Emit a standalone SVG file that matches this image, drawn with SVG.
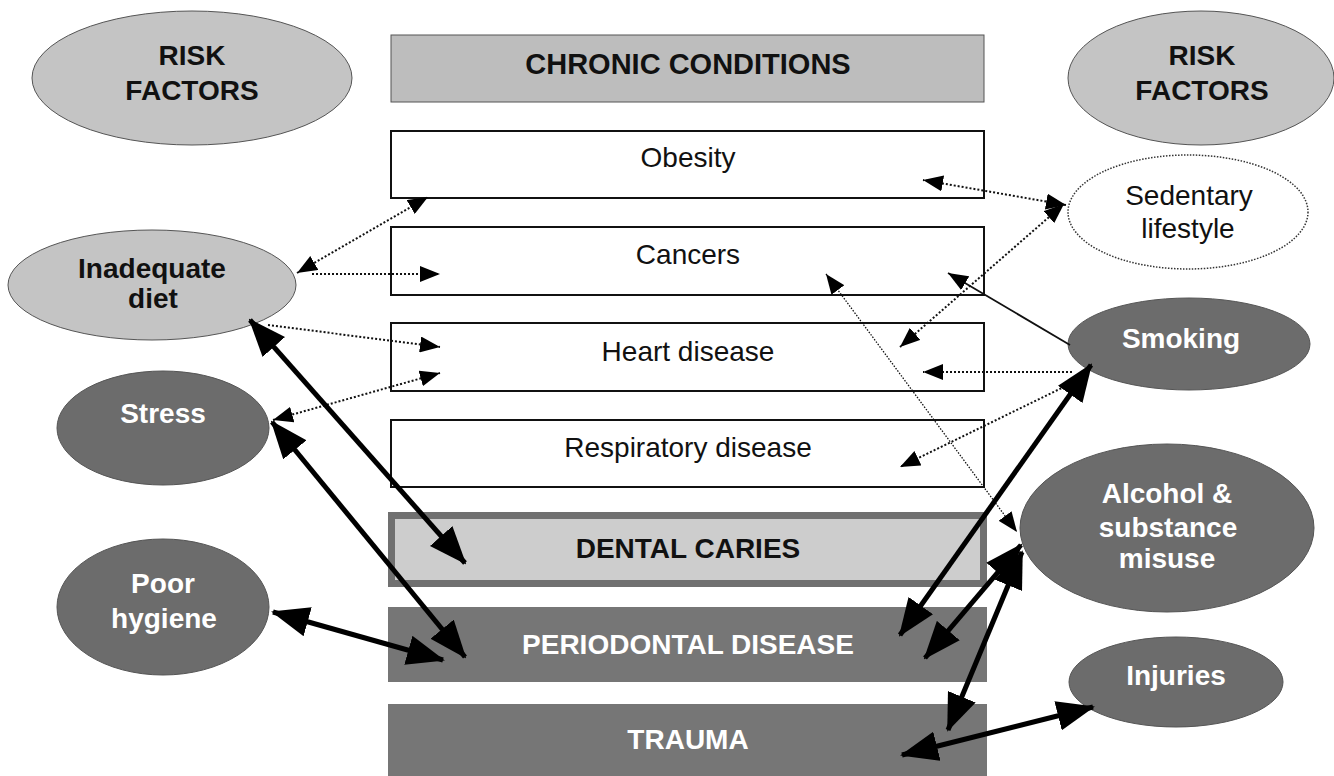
<svg xmlns="http://www.w3.org/2000/svg" width="1334" height="776" viewBox="0 0 1334 776">
<style>
text{font-family:"Liberation Sans",Arial,sans-serif;text-anchor:middle}
.b{font-weight:bold;font-size:28px}
.n{font-size:28px;fill:#111}
.w{fill:#fff}
.k{fill:#111}
.box{fill:#fff;stroke:#111;stroke-width:2}
.lite{fill:#c4c4c4;stroke:#555;stroke-width:1}
.dark{fill:#6c6c6c;stroke:#555;stroke-width:1}
.band{fill:#767676}
.dot{fill:none;stroke:#111;stroke-width:2;stroke-dasharray:2 2}
.fine{fill:none;stroke:#111;stroke-width:1.3;stroke-dasharray:1.5 1.5}
.thin{fill:none;stroke:#111;stroke-width:1.8}
.thick{fill:none;stroke:#000;stroke-width:5}
</style>
<defs>
<marker id="ah" markerUnits="userSpaceOnUse" viewBox="0 0 20 16" markerWidth="20" markerHeight="16" refX="20" refY="8" orient="auto-start-reverse"><path d="M0,0 L20,8 L0,16 z" fill="#000"/></marker>
<marker id="ahL" markerUnits="userSpaceOnUse" viewBox="0 0 38 30" markerWidth="38" markerHeight="30" refX="36" refY="15" orient="auto-start-reverse"><path d="M0,0 L38,15 L0,30 z" fill="#000"/></marker>
</defs>
<rect width="1334" height="776" fill="#fff"/>

<g id="rf-left"><ellipse class="lite" cx="192" cy="78" rx="160" ry="67"/><text class="b k" x="192" y="65">RISK</text><text class="b k" x="192" y="100">FACTORS</text></g>
<g id="rf-right"><ellipse class="lite" cx="1201" cy="78" rx="133" ry="67"/><text class="b k" x="1202" y="65">RISK</text><text class="b k" x="1202" y="100">FACTORS</text></g>

<g id="chronic"><rect x="391" y="35" width="593" height="67" fill="#bdbdbd" stroke="#555" stroke-width="1"/><text class="b k" x="688" y="74" style="font-size:29px">CHRONIC CONDITIONS</text></g>
<g id="obesity"><rect class="box" x="391" y="131" width="593" height="67"/><text class="n" x="688" y="167">Obesity</text></g>
<g id="cancers"><rect class="box" x="391" y="227" width="593" height="68"/><text class="n" x="688" y="264">Cancers</text></g>
<g id="heart"><rect class="box" x="391" y="323" width="593" height="68"/><text class="n" x="688" y="361">Heart disease</text></g>
<g id="respiratory"><rect class="box" x="391" y="420" width="593" height="67"/><text class="n" x="688" y="457">Respiratory disease</text></g>
<g id="caries"><rect x="388" y="512" width="599" height="75" fill="#707070"/><rect x="395" y="519" width="585" height="61" fill="#cdcdcd"/><text class="b k" x="688" y="558">DENTAL CARIES</text></g>
<g id="periodontal"><rect class="band" x="388" y="607" width="599" height="75"/><text class="b w" x="688" y="654">PERIODONTAL DISEASE</text></g>
<g id="trauma"><rect class="band" x="388" y="704" width="599" height="80"/><text class="b w" x="688" y="749">TRAUMA</text></g>

<g id="diet"><ellipse class="lite" cx="152" cy="285" rx="144" ry="55"/><text class="b k" x="152" y="278">Inadequate</text><text class="b k" x="153" y="308">diet</text></g>
<g id="stress"><ellipse class="dark" cx="163" cy="428" rx="106" ry="57"/><text class="b w" x="163" y="423">Stress</text></g>
<g id="hygiene"><ellipse class="dark" cx="163" cy="607" rx="106" ry="68"/><text class="b w" x="163" y="593">Poor</text><text class="b w" x="164" y="628">hygiene</text></g>
<g id="sedentary"><ellipse cx="1188" cy="212" rx="120" ry="57" fill="#fff" stroke="#333" stroke-width="1.5" stroke-dasharray="1.5 1.5"/><text class="n" x="1189" y="205">Sedentary</text><text class="n" x="1188" y="238">lifestyle</text></g>
<g id="smoking"><ellipse class="dark" cx="1189" cy="344" rx="121" ry="46"/><text class="b w" x="1181" y="348">Smoking</text></g>
<g id="alcohol"><ellipse class="dark" cx="1167" cy="528" rx="147" ry="84"/><text class="b w" x="1167" y="503">Alcohol &amp;</text><text class="b w" x="1168" y="537">substance</text><text class="b w" x="1167" y="568">misuse</text></g>
<g id="injuries"><ellipse class="dark" cx="1176" cy="682" rx="107" ry="45"/><text class="b w" x="1176" y="685">Injuries</text></g>

<g id="connectors">
<line class="dot" x1="297" y1="273" x2="428" y2="197" marker-start="url(#ah)" marker-end="url(#ah)"/>
<line class="dot" x1="312" y1="274" x2="440" y2="274" marker-end="url(#ah)"/>
<line class="dot" x1="268" y1="325" x2="440" y2="347" marker-end="url(#ah)"/>
<line class="dot" x1="273" y1="420" x2="440" y2="373" marker-start="url(#ah)" marker-end="url(#ah)"/>
<line class="dot" x1="1066" y1="205" x2="923" y2="180" marker-start="url(#ah)" marker-end="url(#ah)"/>
<line class="dot" x1="1064" y1="204" x2="900" y2="347" marker-start="url(#ah)" marker-end="url(#ah)"/>
<line class="dot" x1="1072" y1="372" x2="923" y2="372" marker-end="url(#ah)"/>
<line class="dot" x1="1072" y1="383" x2="900" y2="467" marker-end="url(#ah)"/>
<line class="fine" x1="826" y1="274" x2="1017" y2="532" marker-start="url(#ah)" marker-end="url(#ah)"/>
<line class="thin" x1="1070" y1="345" x2="948" y2="273" marker-end="url(#ah)"/>
<line class="thick" x1="250" y1="320" x2="465" y2="563" marker-start="url(#ahL)" marker-end="url(#ahL)"/>
<line class="thick" x1="272" y1="422" x2="465" y2="657" marker-start="url(#ahL)" marker-end="url(#ahL)"/>
<line class="thick" x1="273" y1="612" x2="443" y2="660" marker-start="url(#ahL)" marker-end="url(#ahL)"/>
<line class="thick" x1="1091" y1="365" x2="900" y2="635" marker-start="url(#ahL)" marker-end="url(#ahL)"/>
<line class="thick" x1="1021" y1="545" x2="925" y2="658" marker-start="url(#ahL)" marker-end="url(#ahL)"/>
<line class="thick" x1="1022" y1="552" x2="948" y2="730" marker-start="url(#ahL)" marker-end="url(#ahL)"/>
<line class="thick" x1="1093" y1="707" x2="902" y2="755" marker-start="url(#ahL)" marker-end="url(#ahL)"/>
</g>
</svg>
